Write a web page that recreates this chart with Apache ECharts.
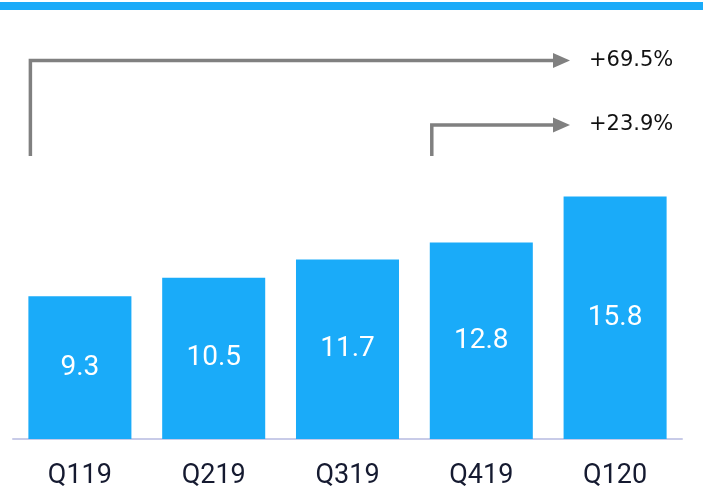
<!DOCTYPE html>
<html>
<head>
<meta charset="utf-8">
<script src="https://cdn.jsdelivr.net/npm/echarts@6/dist/echarts.min.js"></script>
<style>
  html, body { margin: 0; padding: 0; background: #ffffff; }
  #chart { width: 703px; height: 492px; }
</style>
</head>
<body>
<div id="chart"></div>
<script>
// Quarterly values
var quarters = ['Q119', 'Q219', 'Q319', 'Q419', 'Q120'];
var values = [9.3, 10.5, 11.7, 12.8, 15.8];

// Growth call-outs: start quarter index and label
var growthFrom = [0, 3];
var growthText = ['+69.5%', '+23.9%'];

var BAR_COLOR = '#1aabf9';
var ARROW_COLOR = '#808080';

var chart = echarts.init(document.getElementById('chart'), null, { renderer: 'canvas' });

chart.setOption({
  animation: false,
  grid: { left: 13, right: 21, top: 132, bottom: 53 },
  xAxis: {
    type: 'category',
    data: quarters,
    axisLine: { show: true, lineStyle: { color: '#c8cbe8', width: 2 } },
    axisTick: { show: false },
    axisLabel: {
      margin: 24,
      fontFamily: 'Roboto',
      fontSize: 27,
      color: '#151a30'
    }
  },
  yAxis: {
    type: 'value',
    min: 0,
    max: 20,
    show: false,
    splitLine: { show: false }
  },
  series: [{
    type: 'bar',
    data: values,
    barCategoryGap: '23%',
    itemStyle: { color: BAR_COLOR },
    label: {
      show: true,
      position: 'inside',
      color: '#ffffff',
      fontFamily: 'Roboto',
      fontSize: 28
    }
  }]
});

// Growth arrows: elbow connector from a bar's left edge to a label on the right
function drawArrows() {
  var bandWidth = chart.convertToPixel({ xAxisIndex: 0 }, 1) - chart.convertToPixel({ xAxisIndex: 0 }, 0);
  var barWidth = bandWidth * 0.77;
  var rowY = [60.5, 125];
  var bottomY = 156;
  var tipX = 570;
  var headLen = 17;
  var headHalf = 7.5;
  var elements = [
    {
      type: 'rect',
      shape: { x: 0, y: 2, width: 703, height: 8 },
      style: { fill: BAR_COLOR }
    }
  ];
  growthFrom.forEach(function (idx, i) {
    var cx = chart.convertToPixel({ xAxisIndex: 0 }, idx);
    var x0 = cx - barWidth / 2 + 2;
    var y = rowY[i];
    elements.push({
      type: 'polyline',
      shape: { points: [[x0, bottomY], [x0, y], [tipX - headLen, y]] },
      style: { stroke: ARROW_COLOR, lineWidth: 3.5, fill: null }
    });
    elements.push({
      type: 'polygon',
      shape: { points: [[tipX - headLen, y - headHalf], [tipX, y], [tipX - headLen, y + headHalf]] },
      style: { fill: ARROW_COLOR }
    });
    elements.push({
      type: 'text',
      x: 589,
      y: y,
      style: {
        text: growthText[i],
        fill: '#111111',
        font: '21px "DejaVu Sans"',
        verticalAlign: 'middle',
        align: 'left'
      }
    });
  });
  chart.setOption({ graphic: { elements: elements } });
}
drawArrows();
</script>
</body>
</html>
